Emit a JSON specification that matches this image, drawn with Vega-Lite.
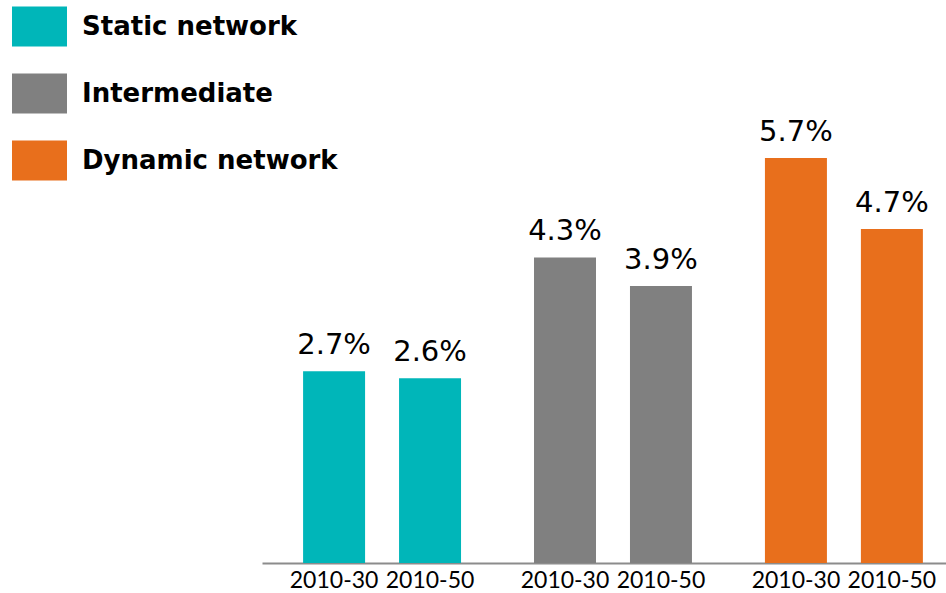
{
  "$schema": "https://vega.github.io/schema/vega-lite/v6.json",
  "width": 684,
  "height": 563,
  "autosize": "none",
  "padding": {"left": 262, "top": 0, "right": 0, "bottom": 30},
  "background": "white",
  "config": {"view": {"stroke": null}},
  "data": {
    "values": [
      {"group": "Static network", "period": "2010-30", "value": 0.027},
      {"group": "Static network", "period": "2010-50", "value": 0.026},
      {"group": "Intermediate", "period": "2010-30", "value": 0.043},
      {"group": "Intermediate", "period": "2010-50", "value": 0.039},
      {"group": "Dynamic network", "period": "2010-30", "value": 0.057},
      {"group": "Dynamic network", "period": "2010-50", "value": 0.047}
    ]
  },
  "encoding": {
    "x": {
      "field": "group", "type": "nominal",
      "sort": ["Static network", "Intermediate", "Dynamic network"],
      "scale": {"paddingInner": 0.316, "paddingOuter": 0.139, "align": 0.64},
      "axis": {"labels": false, "ticks": false, "title": null, "domain": true, "domainColor": "#8c8c8c", "domainWidth": 2, "grid": false}
    },
    "xOffset": {
      "field": "period", "type": "nominal",
      "scale": {"paddingInner": 0.354, "paddingOuter": 0}
    }
  },
  "layer": [
    {
      "mark": {"type": "bar"},
      "encoding": {
        "y": {"field": "value", "type": "quantitative", "scale": {"domain": [0, 0.07924], "nice": false}, "axis": null},
        "color": {
          "field": "group", "type": "nominal",
          "sort": ["Static network", "Intermediate", "Dynamic network"],
          "scale": {"domain": ["Static network", "Intermediate", "Dynamic network"], "range": ["#00B6B9", "#808080", "#E86F1C"]},
          "legend": {
            "orient": "none", "legendX": -250, "legendY": -1, "title": null,
            "symbolType": "M-1,-0.727L1,-0.727L1,0.727L-1,0.727Z",
            "symbolSize": 3025, "symbolStrokeWidth": 0, "symbolOpacity": 1,
            "labelFont": "DejaVu Sans", "labelFontWeight": "bold", "labelFontSize": 26,
            "labelColor": "#000000", "labelOffset": 15, "rowPadding": 19, "padding": 0,
            "labelLimit": 400
          }
        }
      }
    },
    {
      "mark": {"type": "text", "baseline": "alphabetic", "dy": -17, "font": "DejaVu Sans", "fontSize": 29, "color": "#000000"},
      "encoding": {
        "y": {"field": "value", "type": "quantitative"},
        "text": {"field": "value", "type": "quantitative", "format": ".1%"}
      }
    },
    {
      "mark": {"type": "text", "baseline": "alphabetic", "dy": 25, "font": "Lato", "fontSize": 23, "color": "#000000"},
      "encoding": {
        "y": {"datum": 0, "type": "quantitative"},
        "text": {"field": "period", "type": "nominal"}
      }
    }
  ]
}
